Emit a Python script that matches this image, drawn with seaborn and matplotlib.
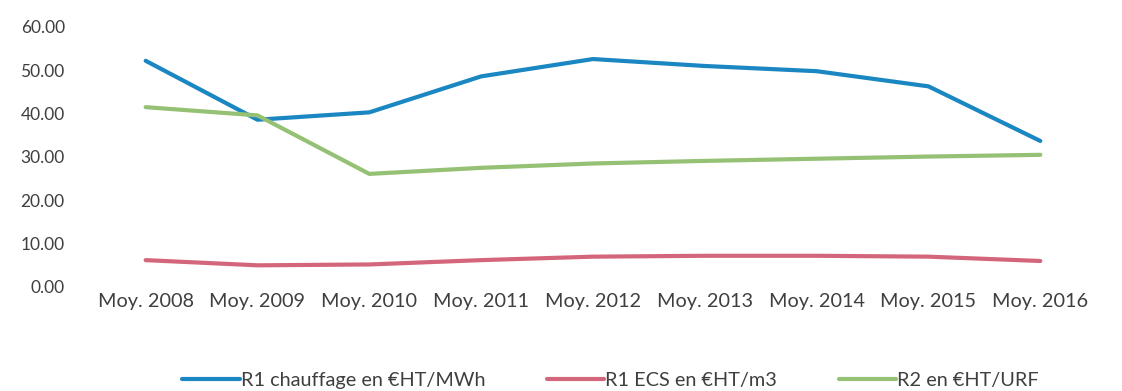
import matplotlib
matplotlib.use("Agg")
import matplotlib.pyplot as plt
import seaborn as sns
import pandas as pd

# Yearly averages
periods = ["Moy. 2008", "Moy. 2009", "Moy. 2010", "Moy. 2011", "Moy. 2012",
           "Moy. 2013", "Moy. 2014", "Moy. 2015", "Moy. 2016"]
r1_chauffage = [52.2, 38.6, 40.3, 48.6, 52.6, 51.0, 49.8, 46.3, 33.7]
r1_ecs = [6.2, 5.0, 5.2, 6.2, 7.0, 7.2, 7.2, 7.0, 6.0]
r2 = [41.5, 39.6, 26.1, 27.5, 28.5, 29.1, 29.6, 30.1, 30.5]

series_names = ["R1 chauffage en €HT/MWh", "R1 ECS en €HT/m3", "R2 en €HT/URF"]
series_colors = ["#1a87c2", "#d4667c", "#94c173"]

df = pd.DataFrame({
    "periode": periods * 3,
    "valeur": r1_chauffage + r1_ecs + r2,
    "serie": [series_names[0]] * 9 + [series_names[1]] * 9 + [series_names[2]] * 9,
})

sns.set_theme(style="white")
plt.rcParams["font.family"] = ["Lato", "DejaVu Sans"]

fig = plt.figure(figsize=(11.22, 3.91), dpi=100)
ax = fig.add_axes([0.080, 0.266, 0.897, 0.665])

sns.lineplot(data=df, x="periode", y="valeur", hue="serie",
             hue_order=series_names, palette=series_colors,
             linewidth=3.0, sort=False, legend=False, ax=ax)

ax.set_xlim(-0.5, len(periods) - 0.5)
ax.set_ylim(0, 60)
ax.set_yticks(range(0, 61, 10))
ax.set_yticklabels([f"{v:.2f}" for v in range(0, 61, 10)])
ax.set_xlabel("")
ax.set_ylabel("")
for s in ax.spines.values():
    s.set_visible(False)
ax.tick_params(axis="y", length=0, labelsize=12.5, labelcolor="#3f3f3f", pad=18)
ax.tick_params(axis="x", length=0, labelsize=14.3, labelcolor="#3f3f3f", pad=4)

handles = [plt.Line2D([], [], color=c, linewidth=3.0) for c in series_colors]
fig.legend(handles, series_names, loc="lower center", bbox_to_anchor=(0.544, -0.04),
           ncol=3, frameon=False, fontsize=14.3, handlelength=2.9,
           handletextpad=0.05, columnspacing=3.1, labelcolor="#3f3f3f")

fig.savefig("out.png", dpi=100, facecolor="white")
